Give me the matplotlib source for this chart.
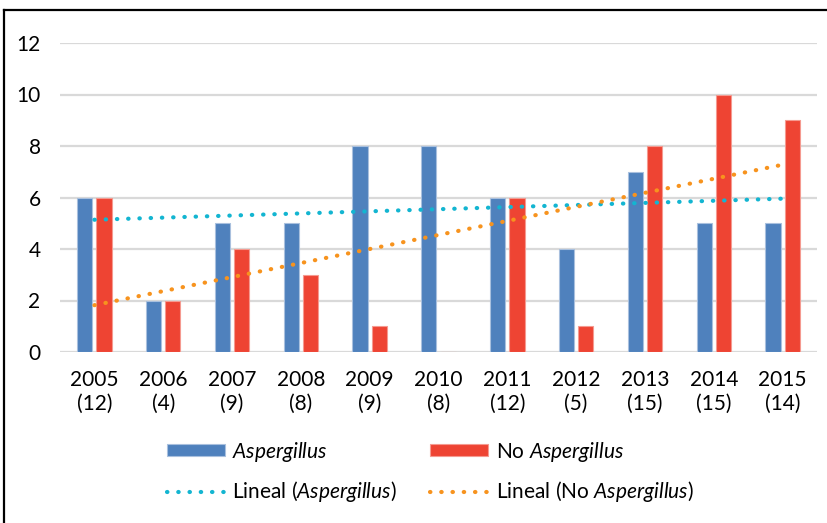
import numpy as np
import matplotlib
matplotlib.use("Agg")
import matplotlib.pyplot as plt
from matplotlib.lines import Line2D

plt.rcParams['font.family'] = ['Lato', 'DejaVu Sans']
plt.rcParams['mathtext.fontset'] = 'custom'
plt.rcParams['mathtext.rm'] = 'Lato'
plt.rcParams['mathtext.it'] = 'Lato:italic'

years = ['2005', '2006', '2007', '2008', '2009', '2010', '2011', '2012', '2013', '2014', '2015']
totals = [12, 4, 9, 8, 9, 8, 12, 5, 15, 15, 14]
aspergillus = [6, 2, 5, 5, 8, 8, 6, 4, 7, 5, 5]
no_aspergillus = [6, 2, 4, 3, 1, 0, 6, 1, 8, 10, 9]
yticks = [0, 2, 4, 6, 8, 10, 12]

blue = '#4F81BD'
red = '#EE4433'
cyan = '#13B5D1'
orange = '#F7931E'

W, H = 828, 523
fig = plt.figure(figsize=(W / 100, H / 100), dpi=100)
ax = fig.add_axes([60 / W, 1 - 352 / H, (817 - 60) / W, (352 - 43) / H])

x = np.arange(len(years))
bw = 0.22
gap = 0.03
b1 = ax.bar(x - bw / 2 - gap, aspergillus, bw, color=blue, edgecolor='#A9C0DE', linewidth=0.8,
            label=r'$\mathit{Aspergillus}$', zorder=3)
b2 = ax.bar(x + bw / 2 + gap, no_aspergillus, bw, color=red, edgecolor='#F59A90', linewidth=0.8,
            label=r'No $\mathit{Aspergillus}$', zorder=3)

p1 = np.polyfit(x, aspergillus, 1)
p2 = np.polyfit(x, no_aspergillus, 1)
ls = (0, (0.1, 2.6))
l1, = ax.plot(x, np.polyval(p1, x), color=cyan, lw=3, linestyle=ls, dash_capstyle='round',
              label=r'Lineal ($\mathit{Aspergillus}$)', zorder=4)
l2, = ax.plot(x, np.polyval(p2, x), color=orange, lw=3, linestyle=ls, dash_capstyle='round',
              label=r'Lineal (No $\mathit{Aspergillus}$)', zorder=4)

ax.set_xlim(-0.5, len(years) - 0.5)
ax.set_ylim(0, 12)
ax.set_yticks(yticks)
ax.set_yticklabels([str(v) for v in yticks])
ax.set_xticks(x)
ax.set_xticklabels([f'{y}\n({t})' for y, t in zip(years, totals)], linespacing=1.25)
ax.tick_params(axis='both', length=0, labelsize=15, colors='black')
ax.tick_params(axis='y', pad=14)
ax.tick_params(axis='x', pad=13)
ax.grid(axis='y', color='#D9D9D9', lw=1.6, zorder=0)
ax.set_axisbelow(True)
for s in ax.spines.values():
    s.set_visible(False)

handles = [b1, l1, b2, l2]
leg = fig.legend(handles=handles, labels=[h.get_label() for h in handles], ncol=2,
                 loc='center', bbox_to_anchor=(430 / W, 1 - 472 / H), frameon=False,
                 fontsize=15, handlelength=2.8, handleheight=0.5, columnspacing=1.6,
                 labelspacing=0.75, handletextpad=0.35)

fig.add_artist(Line2D([4 / W, 4 / W], [0, 1 - 10 / H], color='black', lw=1.6))
fig.add_artist(Line2D([4 / W, 1], [1 - 10 / H, 1 - 10 / H], color='black', lw=1.6))

fig.savefig('out.png', dpi=100)
